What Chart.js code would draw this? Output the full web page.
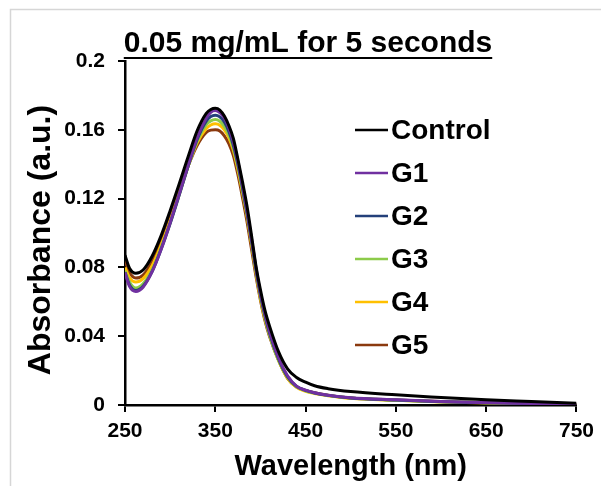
<!DOCTYPE html>
<html>
<head>
<meta charset="utf-8">
<script src="https://cdn.jsdelivr.net/npm/chart.js@4/dist/chart.umd.min.js"></script>
<style>
  html, body { margin: 0; padding: 0; background: #fff; }
  #wrap { position: relative; width: 601px; height: 486px; overflow: hidden; }
  canvas { display: block; }
</style>
</head>
<body>
<div id="wrap"><canvas id="c" width="601" height="486"></canvas></div>
<script>
const titleText = "0.05 mg/mL for 5 seconds";
const xTitle = "Wavelength (nm)";
const yTitle = "Absorbance (a.u.)";
const seriesNames = ["Control", "G1", "G2", "G3", "G4", "G5"];
const seriesColors = ["#000000", "#7030A0", "#24407A", "#8CCB4A", "#FFC000", "#8B3A0F"];
const xTicks = [250, 350, 450, 550, 650, 750];
const yTicks = [0, 0.04, 0.08, 0.12, 0.16, 0.2];

const wavelength = [250,255,262,270,280,290,300,310,320,330,340,345,350,355,360,365,370,375,380,385,390,395,400,405,410,420,430,440,450,460,475,500,550,600,650,700,750];

const control = [0.087,0.0795,0.0766,0.0785,0.0865,0.0985,0.113,0.1285,0.1445,0.1595,0.1695,0.1718,0.1725,0.1715,0.168,0.1625,0.155,0.143,0.130,0.116,0.099,0.081,0.067,0.055,0.046,0.031,0.021,0.016,0.0133,0.0112,0.0095,0.0078,0.0059,0.0044,0.003,0.002,0.001];
const g1 = [0.077,0.069,0.066,0.0685,0.0775,0.0905,0.106,0.1225,0.1395,0.1555,0.1668,0.1702,0.1712,0.170,0.1668,0.1612,0.153,0.1415,0.128,0.1135,0.097,0.080,0.065,0.053,0.043,0.0275,0.017,0.011,0.0086,0.0071,0.0057,0.0042,0.003,0.002,0.0014,0.0009,0.0004];
const g2 = [0.077,0.0698,0.0665,0.069,0.0775,0.0905,0.1055,0.122,0.139,0.1545,0.1650,0.1677,0.1685,0.1675,0.1645,0.159,0.151,0.140,0.1265,0.112,0.096,0.079,0.064,0.052,0.042,0.027,0.0165,0.0108,0.0085,0.007,0.0056,0.0041,0.0029,0.0019,0.0013,0.0008,0.0003];
const g3 = [0.078,0.0715,0.068,0.0705,0.0785,0.0915,0.106,0.122,0.139,0.1535,0.1630,0.1652,0.166,0.165,0.162,0.157,0.1495,0.1385,0.125,0.111,0.095,0.078,0.063,0.051,0.041,0.026,0.016,0.0106,0.0083,0.0069,0.0055,0.004,0.0028,0.0019,0.0013,0.0008,0.0003];
const g4 = [0.080,0.074,0.0715,0.0735,0.081,0.093,0.107,0.123,0.139,0.1525,0.1607,0.1628,0.1635,0.1627,0.160,0.1555,0.148,0.137,0.124,0.110,0.094,0.077,0.062,0.050,0.041,0.026,0.0155,0.0103,0.008,0.0067,0.0054,0.0039,0.0027,0.0018,0.0012,0.0007,0.0003];
const g5 = [0.084,0.077,0.0738,0.0755,0.0835,0.0955,0.109,0.124,0.139,0.151,0.1585,0.1598,0.160,0.1593,0.1565,0.152,0.145,0.134,0.121,0.107,0.091,0.075,0.061,0.049,0.040,0.026,0.0155,0.0105,0.0085,0.0071,0.0057,0.0041,0.0029,0.002,0.0014,0.0009,0.0004];

const seriesValues = [control, g1, g2, g3, g4, g5];

const FONT = "'Liberation Sans', Arial, sans-serif";

const datasets = seriesNames.map((name, i) => ({
  label: name,
  data: wavelength.map((w, k) => ({ x: w, y: seriesValues[i][k] })),
  borderColor: seriesColors[i],
  backgroundColor: seriesColors[i],
  borderWidth: 3,
  pointRadius: 0,
  fill: false,
  cubicInterpolationMode: 'monotone'
}));

const decorPlugin = {
  id: 'decor',
  beforeDraw(chart) {
    const ctx = chart.ctx;
    ctx.save();
    ctx.strokeStyle = '#d6d6d6';
    ctx.lineWidth = 1.5;
    ctx.beginPath();
    ctx.moveTo(10.5, 486);
    ctx.lineTo(10.5, 9.5);
    ctx.lineTo(601, 9.5);
    ctx.stroke();
    ctx.restore();
  },
  afterDraw(chart) {
    const ctx = chart.ctx;
    ctx.save();
    // title with underline
    ctx.font = "bold 30px " + FONT;
    ctx.fillStyle = '#000';
    ctx.textAlign = 'center';
    ctx.textBaseline = 'alphabetic';
    const cx = 308, by = 52;
    ctx.fillText(titleText, cx, by);
    const w = ctx.measureText(titleText).width;
    ctx.strokeStyle = '#000';
    ctx.lineWidth = 2;
    ctx.beginPath();
    ctx.moveTo(cx - w / 2, 58);
    ctx.lineTo(cx + w / 2, 58);
    ctx.stroke();
    // y axis title
    ctx.save();
    ctx.translate(41, 240);
    ctx.rotate(-Math.PI / 2);
    ctx.font = "bold 32px " + FONT;
    ctx.textAlign = 'center';
    ctx.textBaseline = 'middle';
    ctx.fillText(yTitle, 0, 0);
    ctx.restore();
    // legend
    ctx.font = "bold 28px " + FONT;
    ctx.textAlign = 'left';
    ctx.textBaseline = 'middle';
    chart.data.datasets.forEach((ds, i) => {
      const y = 130 + 43 * i;
      ctx.strokeStyle = ds.borderColor;
      ctx.lineWidth = 2.5;
      ctx.beginPath();
      ctx.moveTo(355, y);
      ctx.lineTo(388, y);
      ctx.stroke();
      ctx.fillStyle = '#000';
      ctx.fillText(ds.label, 391, y + 1);
    });
    ctx.restore();
  }
};

new Chart(document.getElementById('c'), {
  type: 'line',
  data: { datasets },
  plugins: [decorPlugin],
  options: {
    responsive: false,
    animation: false,
    devicePixelRatio: 1,
    layout: { padding: { top: 61, right: 24, bottom: 0, left: 0 } },
    plugins: { legend: { display: false }, title: { display: false }, tooltip: { enabled: false } },
    scales: {
      x: {
        type: 'linear',
        min: 250, max: 750,
        afterBuildTicks: s => { s.ticks = xTicks.map(v => ({ value: v })); },
        afterFit: s => { s.height = 81; },
        ticks: { color: '#000', font: { family: FONT, size: 21, weight: 'bold' }, padding: 7, maxRotation: 0, autoSkip: false },
        grid: { display: true, drawOnChartArea: false, drawTicks: true, tickLength: 7, color: '#000', lineWidth: 2 },
        border: { display: true, color: '#000', width: 2.5 },
        title: { display: true, text: xTitle, color: '#000', font: { family: FONT, size: 29, weight: 'bold' }, padding: { top: 0, bottom: 2 } }
      },
      y: {
        type: 'linear',
        min: 0, max: 0.2,
        afterBuildTicks: s => { s.ticks = yTicks.map(v => ({ value: v })); },
        afterFit: s => { s.width = 125; },
        ticks: { color: '#000', font: { family: FONT, size: 21, weight: 'bold' }, padding: 13, autoSkip: false,
                 callback: v => String(+v.toFixed(2)) },
        grid: { display: true, drawOnChartArea: false, drawTicks: true, tickLength: 7, color: '#000', lineWidth: 2 },
        border: { display: true, color: '#000', width: 2.5 },
        title: { display: false }
      }
    }
  }
});
</script>
</body>
</html>
